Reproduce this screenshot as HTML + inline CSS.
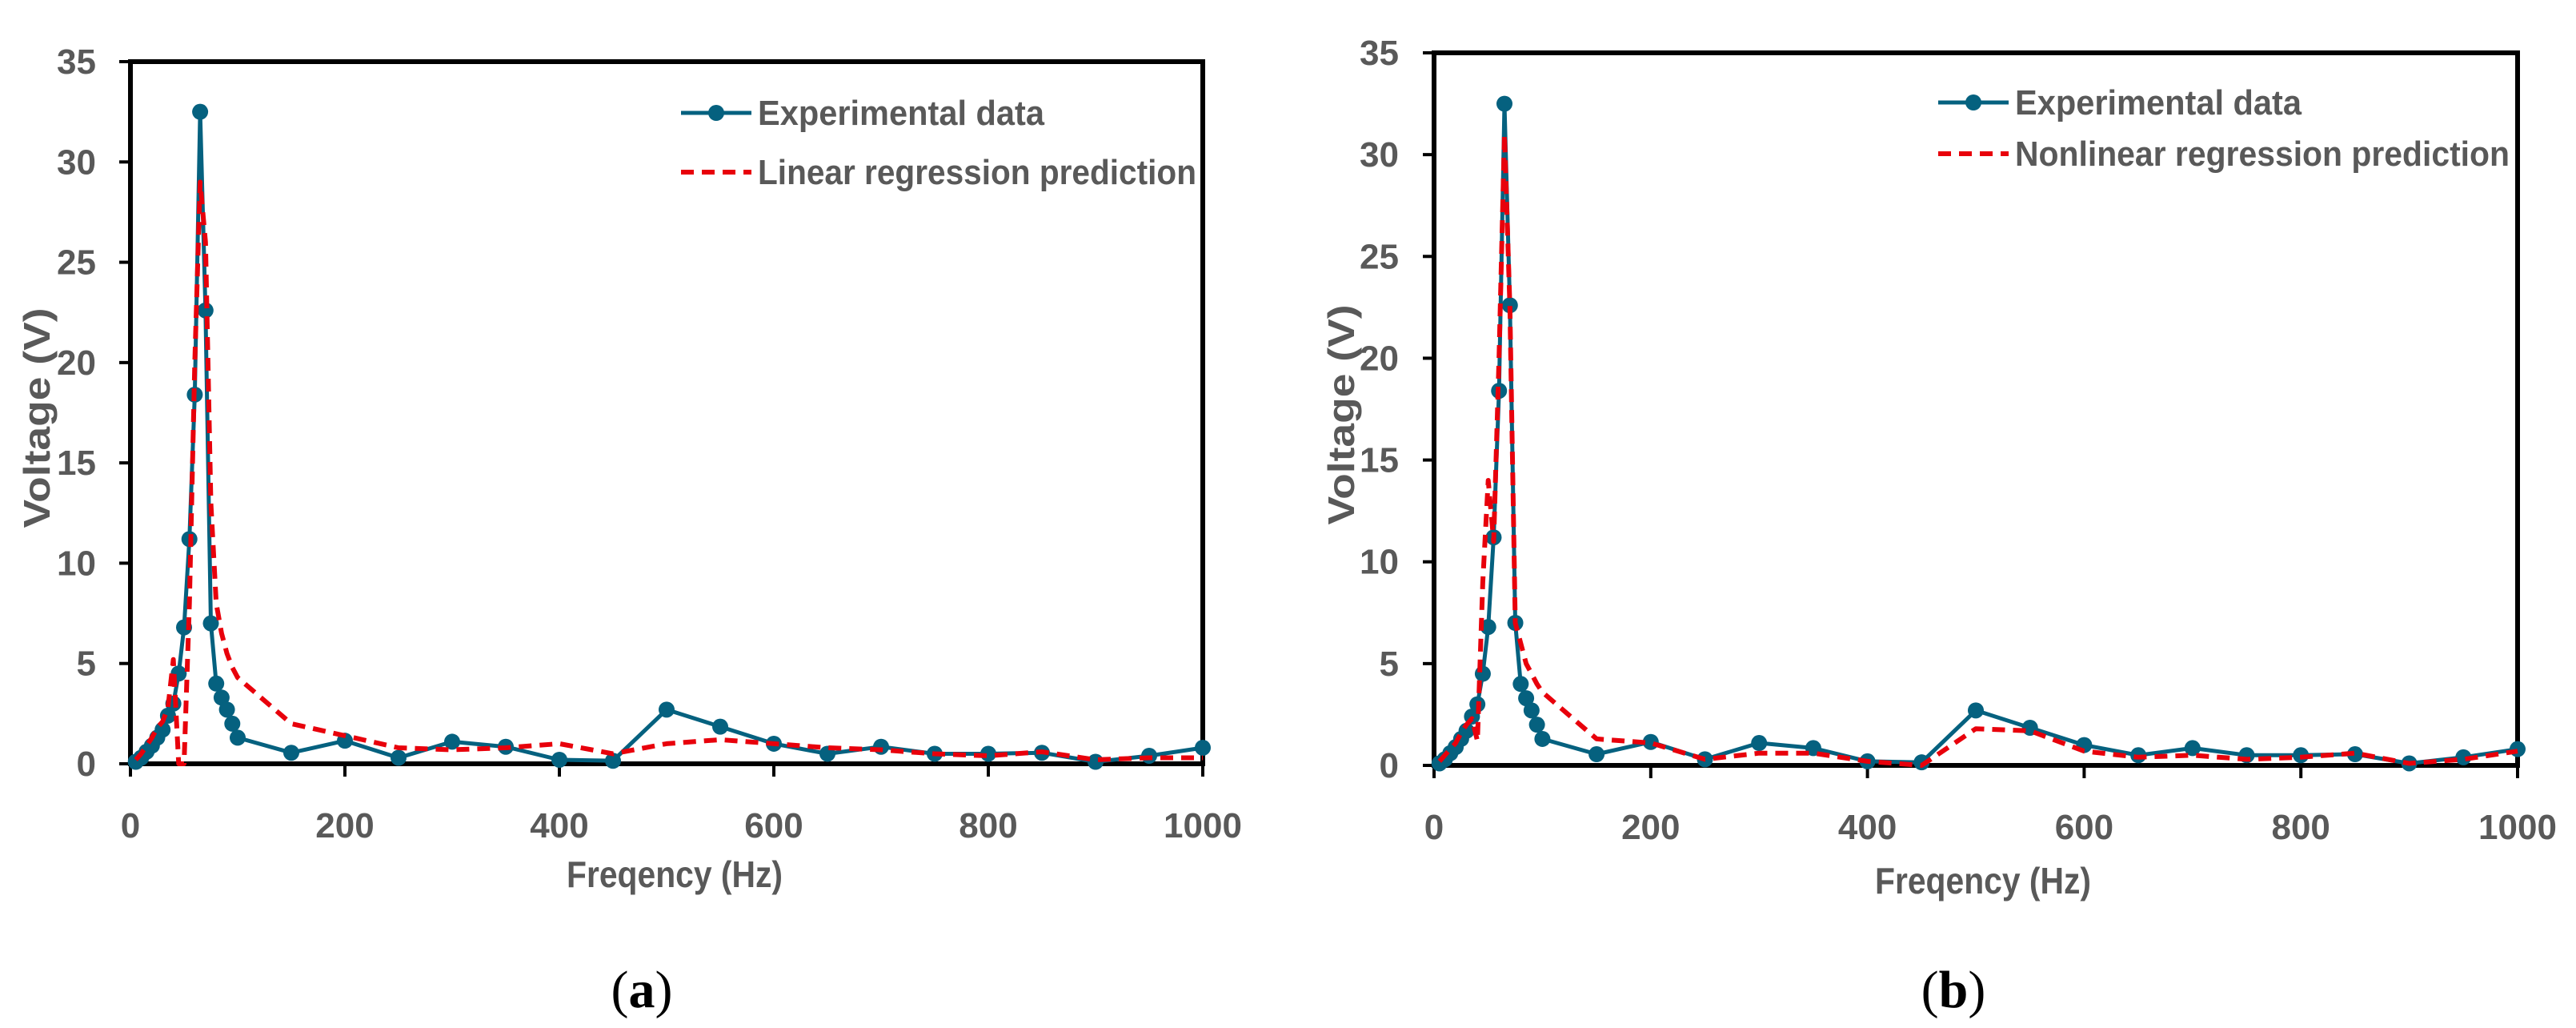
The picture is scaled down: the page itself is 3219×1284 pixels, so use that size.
<!DOCTYPE html>
<html><head><meta charset="utf-8"><style>
html,body{margin:0;padding:0;background:#fff;}
svg{display:block;}
text{font-family:"Liberation Sans Narrow","Liberation Sans",sans-serif;font-weight:bold;fill:#595959;}
</style></head><body>
<svg id="fig" width="3219" height="1284" viewBox="0 0 3219 1284"></svg>
<script>
const freqs = [5,10,15,20,25,30,35,40,45,50,55,60,65,70,75,80,85,90,95,100,150,200,250,300,350,400,450,500,550,600,650,700,750,800,850,900,950,1000];
const experimental = [0.1,0.3,0.6,0.9,1.3,1.7,2.4,3.0,4.5,6.8,11.2,18.4,32.5,22.6,7.0,4.0,3.3,2.7,2.0,1.3,0.55,1.15,0.3,1.1,0.85,0.2,0.15,2.7,1.85,1.0,0.5,0.85,0.5,0.5,0.55,0.1,0.4,0.8];
const linearPred = [0.2,0.5,0.9,1.3,1.8,2.1,2.8,5.2,0,0,8,20,29,26,13,8,6.5,5.5,4.8,4.3,2.0,1.4,0.8,0.7,0.8,1.0,0.5,1.0,1.2,1.0,0.8,0.7,0.5,0.4,0.6,0.2,0.3,0.3];
const nonlinearPred = [0.2,0.5,0.8,1.1,1.6,2.0,2.3,1.2,9,14,11,20,31,22.5,7,6,5,4.5,4,3.6,1.3,1.1,0.3,0.6,0.6,0.2,0,1.8,1.7,0.7,0.4,0.5,0.3,0.4,0.6,0.1,0.3,0.7];
const xTicks = [0,200,400,600,800,1000];
const yTicks = [0,5,10,15,20,25,30,35];

const NS="http://www.w3.org/2000/svg";
const svg=document.getElementById('fig');
function mk(tag,attrs,parent){const e=document.createElementNS(NS,tag);for(const k in attrs)e.setAttribute(k,attrs[k]);(parent||svg).appendChild(e);return e;}

function chart(cfg){
  const g=mk('g',{});
  
  
  const X=f=>cfg.x0+(f/1000)*(cfg.x1-cfg.x0);
  const Y=v=>cfg.y0-(v/35)*(cfg.y0-cfg.y1);
  // ticks
  yTicks.forEach(t=>{
    const l=mk('line',{x1:cfg.x0-14,x2:cfg.x0,y1:Y(t),y2:Y(t),stroke:'#000','stroke-width':4},g);
    
    
    const tx=mk('text',{x:cfg.ylx,y:Y(t)+15,'text-anchor':'end','font-size':44},g);
    tx.textContent=t;
    
    
  });
  xTicks.forEach(t=>{
    const l=mk('line',{x1:X(t),x2:X(t),y1:cfg.y0,y2:cfg.y0+16,stroke:'#000','stroke-width':4},g);
    
    
    const tx=mk('text',{x:X(t),y:cfg.y0+92,'text-anchor':'middle','font-size':44},g);
    tx.textContent=t;
    
    
  });
  // frame
  const fr=mk('rect',{x:cfg.x0,y:cfg.y1,width:cfg.x1-cfg.x0,height:cfg.y0-cfg.y1,fill:'none',stroke:'#000','stroke-width':6},g);
  
  
  // series
  const pts=arr=>arr.map((v,i)=>X(freqs[i]).toFixed(1)+','+Y(v).toFixed(1)).join(' ');
  const ex=mk('polyline',{points:pts(experimental),fill:'none',stroke:'#05617f','stroke-width':5,'stroke-linejoin':'round'},g);
  
  
  experimental.forEach((v,i)=>{
    const c=mk('circle',{cx:X(freqs[i]),cy:Y(v),r:10,fill:'#05617f'},g);
    
    
  });
  const pr=mk('polyline',{points:pts(cfg.pred),fill:'none',stroke:'#e8000b','stroke-width':6,'stroke-dasharray':'16 10','stroke-linejoin':'round'},g);
  
  
  // legend
  const lg=mk('g',{},g);
  
  
  mk('line',{x1:cfg.lgx,x2:cfg.lgx+88,y1:cfg.lgy,y2:cfg.lgy,stroke:'#05617f','stroke-width':5},lg);
  mk('circle',{cx:cfg.lgx+44,cy:cfg.lgy,r:10,fill:'#05617f'},lg);
  const t1=mk('text',{x:cfg.lgx+96,y:cfg.lgy+15,'font-size':44,textLength:358,lengthAdjust:'spacingAndGlyphs'},lg);
  t1.textContent='Experimental data';
  
  
  mk('line',{x1:cfg.lgx,x2:cfg.lgx+88,y1:cfg.lgy+cfg.lgdy,y2:cfg.lgy+cfg.lgdy,stroke:'#e8000b','stroke-width':6,'stroke-dasharray':'16 10'},lg);
  const t2=mk('text',{x:cfg.lgx+96,y:cfg.lgy+cfg.lgdy+15,'font-size':44,textLength:cfg.l2w,lengthAdjust:'spacingAndGlyphs'},lg);
  t2.textContent=cfg.label;
  
  
  // titles
  const xt=mk('text',{x:cfg.xtx,y:cfg.xty,'text-anchor':'middle','font-size':46,textLength:270,lengthAdjust:'spacingAndGlyphs'},g);
  xt.textContent='Freqency (Hz)';
  
  
  const yt=mk('text',{x:0,y:0,'text-anchor':'middle','font-size':46,transform:`translate(${cfg.ytx},${cfg.yty}) rotate(-90)`,textLength:275,lengthAdjust:'spacingAndGlyphs'},g);
  yt.textContent='Voltage (V)';
  
  
  const cap=mk('text',{x:cfg.capx,y:1258,'text-anchor':'middle','font-size':66,style:'font-family:"Liberation Serif",serif;font-weight:normal;fill:#000'},g);
  cap.innerHTML='(<tspan font-weight="bold">'+cfg.cap+'</tspan>)';
  
  
}

chart({id:'linear',x0:163,x1:1503,y0:954,y1:77,ylx:120,pred:linearPred,lgx:851,lgy:141,lgdy:74,label:'Linear regression prediction',l2w:548,xtx:843,xty:1108,ytx:62,yty:522,capx:802,cap:'a'});
chart({id:'nonlinear',x0:1792,x1:3146,y0:956,y1:66,ylx:1748,pred:nonlinearPred,lgx:2422,lgy:128,lgdy:64,label:'Nonlinear regression prediction',l2w:618,xtx:2478,xty:1116,ytx:1692,yty:518,capx:2441,cap:'b'});
</script>
</body></html>
